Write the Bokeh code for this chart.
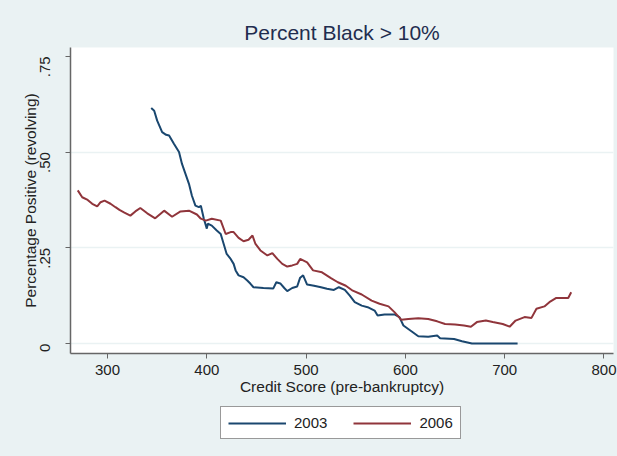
from bokeh.plotting import figure
from bokeh.layouts import column
from bokeh.models import Range1d, FixedTicker, Legend, LegendItem
from bokeh.embed import file_html
from bokeh.resources import INLINE
import math

# ---- data ----
score_2003 = [344, 347, 350, 355, 359, 362, 367, 372, 375, 378.5, 382, 385, 388.5, 392,
              394, 397, 400, 401, 405, 410, 414, 417, 420, 424, 427, 429, 432, 437, 441,
              444, 447, 457, 467, 470, 474, 478, 481, 486, 491, 494, 497, 501, 508, 515,
              521, 528, 533, 539, 544, 549, 556, 562, 569, 572, 579, 589, 594, 598, 605,
              613, 623, 632, 635, 649, 657, 667, 713]
pct_2003 = [0.615, 0.608, 0.582, 0.552, 0.545, 0.543, 0.521, 0.500, 0.469, 0.443, 0.417,
            0.386, 0.360, 0.356, 0.360, 0.326, 0.300, 0.313, 0.308, 0.295, 0.286, 0.260,
            0.234, 0.221, 0.208, 0.191, 0.178, 0.173, 0.164, 0.156, 0.147, 0.145, 0.144,
            0.160, 0.157, 0.145, 0.137, 0.145, 0.149, 0.172, 0.178, 0.154, 0.151, 0.147,
            0.143, 0.140, 0.147, 0.140, 0.125, 0.108, 0.099, 0.095, 0.086, 0.073, 0.076,
            0.076, 0.069, 0.047, 0.034, 0.019, 0.018, 0.021, 0.014, 0.012, 0.006, 0.0, 0.0]

score_2006 = [270, 274.5, 280, 284.6, 289.6, 293, 297, 303, 308, 312, 317, 323, 328, 333,
              340, 348, 357, 365, 373.5, 382, 390, 394, 399, 405, 414, 419, 424, 427, 432,
              437, 442, 446, 449, 454, 461, 466, 471, 476, 481, 486, 491, 494, 501, 507,
              516, 525, 532, 540, 547, 556, 566, 574, 583, 589, 596, 603, 613, 623, 632,
              640, 650, 659, 666, 672, 681, 688, 698, 705, 711, 720, 727, 732, 740, 745,
              752, 764, 767]
pct_2006 = [0.400, 0.382, 0.375, 0.365, 0.358, 0.369, 0.373, 0.365, 0.356, 0.349, 0.342,
            0.334, 0.345, 0.354, 0.340, 0.327, 0.347, 0.331, 0.345, 0.347, 0.337, 0.326,
            0.321, 0.326, 0.321, 0.286, 0.291, 0.291, 0.276, 0.267, 0.271, 0.282, 0.260,
            0.243, 0.230, 0.236, 0.221, 0.208, 0.201, 0.204, 0.208, 0.221, 0.212, 0.191,
            0.186, 0.171, 0.160, 0.151, 0.138, 0.128, 0.112, 0.104, 0.097, 0.082, 0.062,
            0.064, 0.066, 0.064, 0.058, 0.051, 0.050, 0.047, 0.044, 0.056, 0.060, 0.056,
            0.051, 0.044, 0.060, 0.069, 0.067, 0.091, 0.097, 0.108, 0.119, 0.119, 0.134]

x_ticks = [300, 400, 500, 600, 700, 800]
y_ticks = [0, 0.25, 0.5, 0.75]
y_tick_labels = {0: "0", 0.25: ".25", 0.5: ".50", 0.75: ".75"}
series_labels = ["2003", "2006"]

BG = "#EAF2F3"
BLUE = "#1A476F"
RED = "#90353B"
FONT = "Liberation Sans"

p = figure(width=617, height=400,
           x_range=Range1d(262.7, 809.6), y_range=Range1d(-0.026, 0.773),
           output_backend="svg", toolbar_location=None,
           min_border_left=70, min_border_right=4, min_border_top=47, min_border_bottom=47,
           background_fill_color="white", border_fill_color=BG,
           outline_line_color=None)

p.title.text = "Percent Black > 10%"
p.title.align = "center"
p.title.text_font = FONT
p.title.text_font_size = "21px"
p.title.text_font_style = "normal"
p.title.text_color = "#1F2D4F"
p.title.standoff = 8

p.line(score_2003, pct_2003, line_color=BLUE, line_width=2)
p.line(score_2006, pct_2006, line_color=RED, line_width=2)

# axes
for ax in (p.xaxis[0], p.yaxis[0]):
    ax.axis_line_color = "#666666"
    ax.axis_line_width = 1.5
    ax.major_tick_line_color = "#666666"
    ax.major_tick_line_width = 1
    ax.major_tick_out = 5
    ax.major_tick_in = 0
    ax.minor_tick_line_color = None
    ax.major_label_text_font = FONT
    ax.major_label_text_font_size = "15px"
    ax.major_label_text_color = "#222222"
    ax.axis_label_text_font = FONT
    ax.axis_label_text_font_size = "15.5px"
    ax.axis_label_text_font_style = "normal"
    ax.axis_label_text_color = "#222222"

p.xaxis.ticker = FixedTicker(ticks=x_ticks)
p.xaxis.axis_label = "Credit Score (pre-bankruptcy)"
p.xaxis.major_label_standoff = 6
p.xaxis.axis_label_standoff = 0

p.yaxis.ticker = FixedTicker(ticks=y_ticks)
p.yaxis.major_label_overrides = y_tick_labels
p.yaxis.major_label_orientation = math.pi / 2
p.yaxis.axis_label = "Percentage Positive (revolving)"
p.yaxis.major_label_standoff = 20
p.yaxis.axis_label_standoff = -6

p.xgrid.grid_line_color = None
p.ygrid.ticker = FixedTicker(ticks=[0, 0.25, 0.5])
p.ygrid.grid_line_color = BG
p.ygrid.grid_line_width = 1.5

# legend strip below the chart (key lines lie outside its visible range)
p2 = figure(width=617, height=56, x_range=Range1d(0, 1), y_range=Range1d(0, 1),
            output_backend="svg", toolbar_location=None,
            x_axis_type=None, y_axis_type=None,
            min_border=0, background_fill_color=BG, border_fill_color=BG,
            outline_line_color=None)
p2.grid.grid_line_color = None
k1 = p2.line(x=[-5, -4], y=[-5, -4], line_color=BLUE, line_width=2)
k2 = p2.line(x=[-5, -4], y=[-5, -4], line_color=RED, line_width=2)

legend = Legend(items=[LegendItem(label=series_labels[0], renderers=[k1]),
                       LegendItem(label=series_labels[1], renderers=[k2])],
                orientation="horizontal", location=(150, 17),
                glyph_width=58, glyph_height=16, label_height=16,
                label_standoff=8, spacing=26, padding=7, margin=0,
                label_text_font=FONT, label_text_font_size="15px",
                label_text_color="#222222",
                border_line_color="#333333", border_line_width=1,
                background_fill_color="white", background_fill_alpha=1)
p2.add_layout(legend, "center")

layout = column(p, p2, spacing=0, styles={"background-color": BG})
open("out.html", "w").write(file_html(layout, INLINE))
